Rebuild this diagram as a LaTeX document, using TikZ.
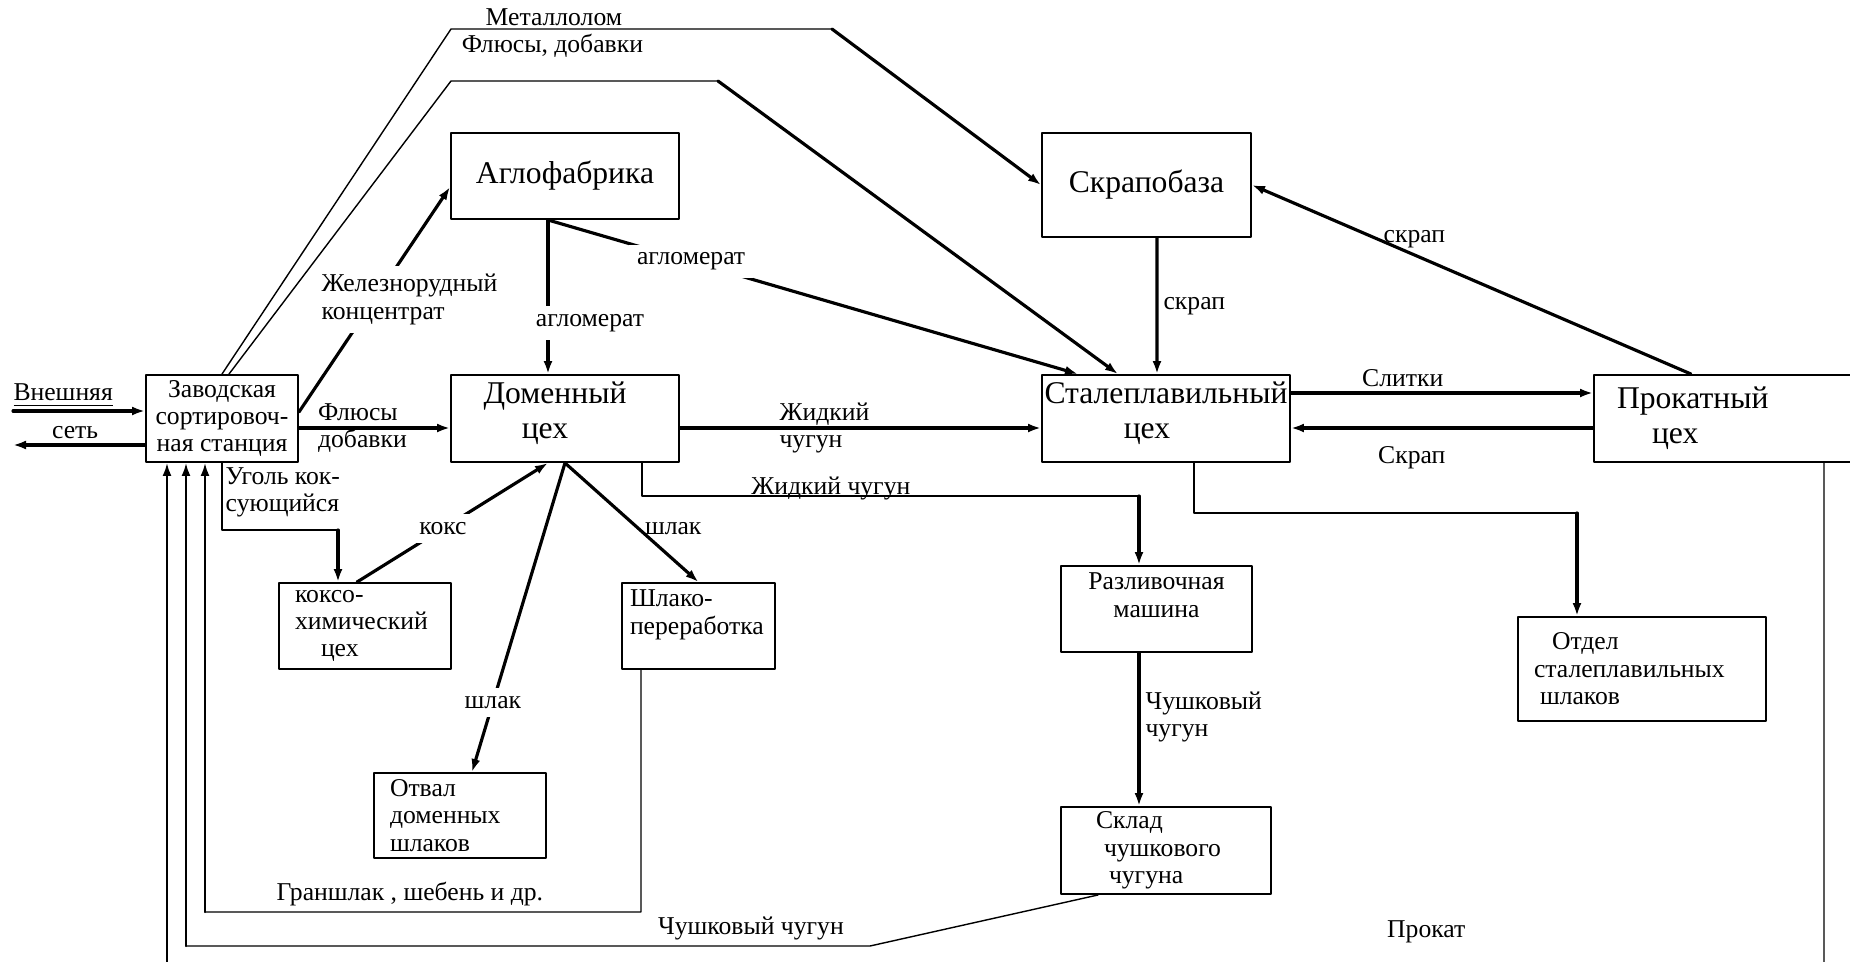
\documentclass[tikz,border=0pt]{standalone}
\usepackage{fontspec}
\setmainfont{Liberation Serif}
\usetikzlibrary{arrows.meta,positioning}

\newcommand{\lbltxt}{\fontsize{7.3}{7.8}\selectfont}
\newcommand{\bigtxt}{\fontsize{9}{10}\selectfont}

\tikzset{
	box/.style={draw, line width=0.55pt, inner sep=0pt, align=center, font=\lbltxt},
	bigbox/.style={box, font=\bigtxt},
	upper/.style={text depth=1.6mm},
	lbl/.style={font=\lbltxt, inner sep=0.5mm},
	cut/.style={lbl, fill=white, inner sep=0.8mm},
	flow/.style={line width=0.9pt, -{Latex[length=1.3mm,width=0.9mm]}},
	ret/.style={line width=0.6pt, -{Latex[length=1.3mm,width=0.9mm]}},
	link/.style={line width=0.4pt}
}

\begin{document}
\begin{tikzpicture}[x=1mm, y=-1mm, line join=round, line cap=round]
	\useasboundingbox (0,0) rectangle (185,96.1);
	\clip (0,0) rectangle (185,96.1);

	% boxes
	\node[box, minimum width=15.2mm, minimum height=8.7mm] (zav) at (22.2,41.85) {Заводская\\сортировоч-\\ная станция};
	\node[bigbox, minimum width=22.8mm, minimum height=8.6mm] (aglo) at (56.5,17.6) {Аглофабрика};
	\node[bigbox, upper, minimum width=22.8mm, minimum height=8.7mm] (dom) at (56.5,41.85) {Доменный\hspace*{2mm}\\цех\hspace*{4mm}};
	\node[bigbox, minimum width=20.9mm, minimum height=10.4mm] (skrap) at (114.65,18.5) {Скрапобаза};
	\node[bigbox, upper, minimum width=24.8mm, minimum height=8.7mm] (stal) at (116.6,41.85) {Сталеплавильный\\цех\hspace*{3.8mm}};
	\node[bigbox, minimum width=26.6mm, minimum height=8.7mm, text width=22mm, align=left, inner xsep=2.3mm] (prok) at (172.7,41.85) {Прокатный\\\hspace*{3.5mm}цех};
	\node[box, minimum width=17.2mm, minimum height=8.6mm, text width=14mm, align=left, inner xsep=1.6mm] (koks) at (36.5,62.6) {коксо-\\химический\\\hspace*{2.6mm}цех};
	\node[box, minimum width=15.3mm, minimum height=8.6mm, text width=13.7mm, align=left, inner xsep=0.8mm] (shlak) at (69.85,62.6) {Шлако-\\переработка\\\mbox{}};
	\node[box, minimum width=17.2mm, minimum height=8.5mm, text width=14mm, align=left, inner xsep=1.6mm] (otval) at (46.0,81.55) {Отвал\\доменных\\шлаков};
	\node[box, minimum width=19.1mm, minimum height=8.6mm] (razl) at (115.65,60.9) {Разливочная\\машина\\\mbox{}};
	\node[box, minimum width=21mm, minimum height=8.7mm, text width=14mm, align=left, inner xsep=3.5mm] (sklad) at (116.6,85.05) {Склад\\\hspace*{0.8mm}чушкового\\\hspace*{1.3mm}чугуна};
	\node[box, minimum width=24.8mm, minimum height=10.4mm, text width=21.6mm, align=left, inner xsep=1.6mm] (otdel) at (164.2,66.9) {\hspace*{1.8mm}Отдел\\сталеплавильных\\\hspace*{0.6mm}шлаков};

	% outer network
	\coordinate (netin) at (1.3,41.1);
	\coordinate (netout) at (1.3,44.5);
	\draw[flow] (netin) -- node[lbl, above, pos=0.38, inner sep=0.2mm]{\underline{Внешняя}} (netin -| zav.west);
	\draw[flow] (netout -| zav.west) -- node[lbl, above, pos=0.53]{сеть} (netout);

	% top lines
	\coordinate (m1) at (45.1,2.9);
	\coordinate (m2) at (83.2,2.9);
	\draw[link] (zav.north) -- (m1) -- node[lbl, above, pos=0.27, inner sep=0.3mm]{Металлолом} (m2);
	\draw[flow] (m2) -- (skrap.west);
	\coordinate (f1) at (45.1,8.1);
	\coordinate (f2) at (71.8,8.1);
	\draw[link] ([xshift=0.7mm]zav.north) -- (f1) -- node[lbl, above, pos=0.38, yshift=1.75mm]{Флюсы, добавки} (f2);
	\draw[flow] (f2) -- ([xshift=-4.8mm]stal.north);

	% main flows
	\draw[flow] ([yshift=0.65mm]zav.east) -- node[cut, align=left, pos=0.5, xshift=3.5mm]{Железнорудный\\концентрат} ([yshift=-1.1mm]aglo.west);
	\draw[flow] ([yshift=-0.95mm]zav.east) -- node[lbl, align=left, pos=0.42]{Флюсы\\добавки} ([yshift=-0.95mm]dom.west);
	\draw[flow] ([xshift=-1.7mm]aglo.south) -- node[cut, pos=0.67, xshift=4.2mm]{агломерат} ([xshift=-1.7mm]dom.north);
	\draw[flow] ([xshift=-1.7mm]aglo.south) -- node[cut, pos=0.27]{агломерат} ([xshift=-8.8mm]stal.north);
	\draw[flow] ([xshift=1.05mm]skrap.south) -- node[lbl, right, pos=0.5]{скрап} ([xshift=-0.9mm]stal.north);
	\draw[flow] ([yshift=-0.95mm]dom.east) -- node[lbl, align=left, pos=0.4]{Жидкий\\чугун} ([yshift=-0.95mm]stal.west);
	\draw[flow] ([yshift=2.55mm]stal.east) -- node[lbl, above, pos=0.37]{Слитки} ([yshift=2.55mm]prok.west);
	\draw[flow] ([yshift=-0.95mm]prok.west) -- node[lbl, below, pos=0.6, yshift=-1.2mm]{Скрап} ([yshift=-0.95mm]stal.east);
	\draw[flow] ([xshift=-3.6mm]prok.north) -- node[lbl, above, pos=0.63]{скрап} (skrap.east);
	\draw[flow] ([xshift=-0.8mm]koks.north) -- node[cut, pos=0.45]{кокс} ([xshift=-1.7mm]dom.south);
	\draw[flow] (dom.south) -- node[cut, pos=0.775]{шлак} ([xshift=1.2mm]otval.north);
	\draw[flow] (dom.south) -- node[lbl, right, pos=0.55]{шлак} (shlak.north);

	% coal
	\coordinate (u1) at (33.8,53.0);
	\draw[link] (zav.south) -- node[lbl, right, align=left, pos=0.44, inner sep=0.3mm]{Уголь кок-\\сующийся} (zav.south |- u1) -- (u1);
	\draw[flow] (u1) -- (u1 |- koks.north);

	% liquid iron to casting machine
	\coordinate (z0) at ([xshift=7.7mm]dom.south);
	\coordinate (z1) at (113.9,49.6);
	\draw[link] (z0) -- (z0 |- z1) -- node[lbl, above, pos=0.38, inner sep=0pt, yshift=-0.5mm]{Жидкий чугун} (z1);
	\draw[flow] (z1) -- (z1 |- razl.north);
	\draw[flow] (razl.south -| z1) -- node[lbl, right, align=left, pos=0.42]{Чушковый\\чугун} (sklad.north -| z1);

	% steel plant slag
	\coordinate (s0) at ([xshift=2.8mm]stal.south);
	\coordinate (s1) at (157.7,51.3);
	\draw[link] (s0) -- (s0 |- s1) -- (s1);
	\draw[flow] (s1) -- (s1 |- otdel.north);

	% returns to the station
	\coordinate (g0) at ([xshift=-5.75mm]shlak.south);
	\coordinate (g1) at (64.1,91.2);
	\coordinate (gz) at ([xshift=-1.7mm]zav.south);
	\draw[link] (g0) -- (g1) -- node[lbl, above, pos=0.53]{Граншлак , шебень и др.} (g1 -| gz);
	\draw[ret] (g1 -| gz) -- (gz);
	\coordinate (c0) at ([xshift=-6.8mm]sklad.south);
	\coordinate (c1) at (87.0,94.6);
	\coordinate (cz) at ([xshift=-3.6mm]zav.south);
	\draw[link] (c0) -- (c1) -- node[lbl, above, pos=0.174]{Чушковый чугун} (c1 -| cz);
	\draw[ret] (c1 -| cz) -- (cz);
	\coordinate (p0) at ([xshift=9.7mm]prok.south);
	\coordinate (p1) at (182.4,98.5);
	\coordinate (pz) at ([xshift=-5.5mm]zav.south);
	\draw[link] (p0) -- (p1) -- node[lbl, above=3.6mm, pos=0.24]{Прокат} (p1 -| pz);
	\draw[ret] (p1 -| pz) -- (pz);
\end{tikzpicture}
\end{document}
